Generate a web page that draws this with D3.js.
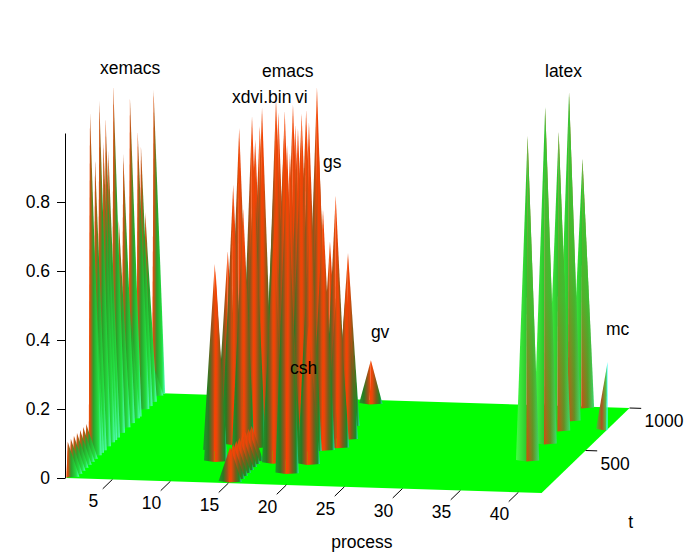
<!DOCTYPE html>
<html>
<head>
<meta charset="utf-8">
<script src="https://cdn.jsdelivr.net/npm/d3@7"></script>
<style>
  body { margin: 0; background: #fff; }
  text { font-family: "Liberation Sans", Arial, Helvetica, sans-serif; fill: #000; }
</style>
</head>
<body>
<svg id="chart" width="692" height="555"></svg>
<script>
// data
// spikes: [process, t, height]
const xemacsSpikes = [
  [1, 20, 0.1], [1, 55, 0.1], [1, 90, 0.1], [1, 125, 0.1], [1, 160, 0.1], [1, 195, 0.1], [1, 230, 0.1],
  [1, 273, 0.99], [1, 300, 0.7], [1, 330, 0.84], [1, 378, 1.0], [1, 424, 0.87], [1, 450, 0.93],
  [1, 481, 0.83], [1, 538, 1.0], [1, 600, 0.6], [1, 650, 0.78], [1, 708, 0.37], [1, 727, 0.92],
  [1, 815, 0.8], [1, 852, 0.75], [1, 900, 0.55], [1, 975, 0.1], [1, 995, 0.88]
]
const emacsSpikes = [
  [11, 372, 0.54], [11, 520, 0.54], [11, 650, 0.865], [13, 532, 0.93], [14, 514, 0.96],
  [15, 541, 0.98], [16, 602, 0.95], [17, 527, 0.9], [18, 430, 0.89], [18, 611, 1.0],
  [17, 436, 0.85], [20, 416, 0.695], [19, 139, 0.95], [19, 627, 0.55], [16, 398, 0.7],
  [14, 300, 0.72], [13, 800, 0.8], [15, 760, 0.85], [17, 750, 0.8], [20, 700, 0.5],
  [21, 550, 0.45], [15, 975, 0.07],
  [12, 450, 0.75], [12, 700, 0.82], [13, 620, 0.88], [14, 700, 0.9], [14, 420, 0.8],
  [15, 640, 0.92], [16, 500, 0.88], [16, 700, 0.9], [17, 620, 0.93], [18, 520, 0.92],
  [19, 500, 0.85], [19, 400, 0.7], [20, 560, 0.7], [18, 300, 0.6], [21, 450, 0.5],
  [12, 250, 0.55], [17, 250, 0.65], [20, 250, 0.4]
]
const ridgeSpikes = [
  [15, 20, 0.1], [15, 55, 0.1], [15, 90, 0.1], [15, 125, 0.1], [15, 160, 0.1],
  [15, 195, 0.1], [15, 230, 0.1], [15, 265, 0.1]
]
const gvSpikes = [[20, 960, 0.125]]
const latexSpikes = [[38, 368, 0.94], [38, 568, 0.975], [38, 721, 0.865], [38, 839, 0.95], [38, 992, 0.72]]
const mcSpikes = [[42, 750, 0.195]]

const labelNames = ['xemacs', 'emacs', 'xdvi.bin', 'vi', 'gs', 'csh', 'gv', 'latex', 'mc']
const labelAt = [[1, 386, 1.077], [14, 514, 1.05], [13, 305, 1.025], [18, 361, 1.016], [20, 416, 0.816],
  [19, 173, 0.278], [20, 960, 0.19], [38, 566, 1.062], [42, 732, 0.278]]

const processTicks = [5, 10, 15, 20, 25, 30, 35, 40]
const tTicks = [500, 1000]
const zTicks = [0, 0.2, 0.4, 0.6, 0.8]

// projection built from scales
const ox = 66, oy = 478
const pX = d3.scaleLinear().domain([1, 42]).range([0, 475.6])
const pY = d3.scaleLinear().domain([1, 42]).range([0, 15])
const tX = d3.scaleLinear().domain([0, 1000]).range([0, 88])
const tY = d3.scaleLinear().domain([0, 1000]).range([0, -85])
const zY = d3.scaleLinear().domain([0, 1]).range([0, -345])
function proj(p, t, z) { return [ox + pX(p) + tX(t), oy + pY(p) + tY(t) + zY(z)] }
const pts = arr => arr.map(d => d.join(',')).join(' ')

let svg = d3.select('#chart')
let defs = svg.append('defs')

function grad(id, stops, vertical) {
  let g = defs.append('linearGradient').attr('id', id)
    .attr('x1', 0).attr('y1', 0).attr('x2', vertical ? 0 : 1).attr('y2', vertical ? 1 : 0)
  stops.forEach(s => g.append('stop').attr('offset', s[0]).attr('stop-color', s[1]).attr('stop-opacity', s[2] === undefined ? 1 : s[2]))
}
grad('red-L', [[0, '#1e9a2a'], [0.4, '#2a7a22'], [0.75, '#a0501a'], [1, '#ff4a00']])
grad('red-R', [[0, '#ff4000'], [0.2, '#e8460a'], [0.5, '#7a5c1a'], [0.8, '#1b8a25'], [1, '#30e0b0']])
grad('green-L', [[0, '#44ff44'], [1, '#2bc22b']])
grad('green-R', [[0, '#d44a10'], [0.5, '#6a8a22'], [1, '#38e070']])
grad('fade', [[0, '#33cc33', 1], [0.55, '#33cc33', 0.75], [1, '#33cc33', 0]], true)
grad('cyan-L', [[0, '#ff4a00'], [1, '#ff4a00']])
grad('cyan-R', [[0, '#ff4a00'], [0.15, '#b85818'], [0.35, '#2aa02a'], [0.75, '#22e040'], [1, '#5affc8']])
grad('mc-L', [[0, '#30d030'], [0.5, '#b05020'], [0.85, '#50c040'], [1, '#40ffff']])
grad('mc-R', [[0, '#40ffff'], [1, '#40ffff']])

svg.append('rect').attr('width', 692).attr('height', 555).attr('fill', '#fff')

// floor
svg.append('polygon')
  .attr('points', pts([proj(1, 0, 0), proj(42, 0, 0), proj(42, 1000, 0), proj(1, 1000, 0)]))
  .attr('fill', '#00ff00')

// spikes, back to front
let all = []
xemacsSpikes.forEach(d => all.push({d, tone: 'cyan'}))
emacsSpikes.forEach(d => all.push({d, tone: 'red'}))
ridgeSpikes.forEach(d => all.push({d, tone: 'red'}))
gvSpikes.forEach(d => all.push({d, tone: 'red'}))
latexSpikes.forEach(d => all.push({d, tone: 'green'}))
mcSpikes.forEach(d => all.push({d, tone: 'mc'}))
all.sort((a, b) => proj(a.d[0], a.d[1], 0)[1] - proj(b.d[0], b.d[1], 0)[1])

let gSpikes = svg.append('g')
all.forEach(s => {
  let [p, t, h] = s.d
  let A = proj(p, t, h)
  let L = proj(Math.max(1, p - 1), t, 0)
  let R = proj(Math.min(42, p + 1), t, 0)
  let F = proj(p, t - 14, 0)
  gSpikes.append('polygon').attr('points', pts([L, F, A])).attr('fill', `url(#${s.tone}-L)`)
  gSpikes.append('polygon').attr('points', pts([F, R, A])).attr('fill', `url(#${s.tone}-R)`)
  if (s.tone === 'green') {
    gSpikes.append('polygon').attr('points', pts([F, R, A])).attr('fill', 'url(#fade)')
  }
})

// z axis
let zScale = d3.scaleLinear().domain([0, 1]).range([oy, oy - 345])
svg.append('g')
  .attr('transform', `translate(${ox - 1},0)`)
  .call(d3.axisLeft(zScale).tickValues(zTicks).tickFormat(d3.format('')).tickSize(8).tickSizeOuter(0).tickPadding(7))
  .call(g => g.selectAll('text').style('font-size', '17.5px').attr('font-family', null))
  .call(g => g.selectAll('line, path').attr('stroke', '#000'))

// process axis ticks
let gp = svg.append('g')
processTicks.forEach(p => {
  let a = proj(p, 0, 0), b = proj(p, -110, 0)
  gp.append('line').attr('x1', a[0]).attr('y1', a[1]).attr('x2', b[0]).attr('y2', b[1]).attr('stroke', '#000')
  gp.append('text').attr('x', a[0] - 19).attr('y', a[1] + 22)
    .attr('text-anchor', 'middle').attr('dominant-baseline', 'central')
    .style('font-size', '17.5px').text(p)
})

// t axis ticks
let gt = svg.append('g')
tTicks.forEach(t => {
  let a = proj(42, t, 0), b = proj(43, t, 0)
  gt.append('line').attr('x1', a[0]).attr('y1', a[1]).attr('x2', b[0]).attr('y2', b[1]).attr('stroke', '#000')
  gt.append('text').attr('x', a[0] + 15).attr('y', a[1] + 19)
    .style('font-size', '17.5px').text(t)
})

// axis titles
let pm = proj(21.5, 0, 0)
svg.append('text').attr('x', pm[0] + 58).attr('y', pm[1] + 62).attr('text-anchor', 'middle')
  .style('font-size', '17.5px').text('process')
let tm = proj(42, 500, 0)
svg.append('text').attr('x', tm[0] + 45).attr('y', tm[1] + 77).attr('text-anchor', 'middle')
  .style('font-size', '17.5px').text('t')

// process names
labelNames.forEach((name, i) => {
  let [x, y] = proj(...labelAt[i])
  svg.append('text').attr('x', x).attr('y', y).style('font-size', '17.5px').text(name)
})
</script>
</body>
</html>
